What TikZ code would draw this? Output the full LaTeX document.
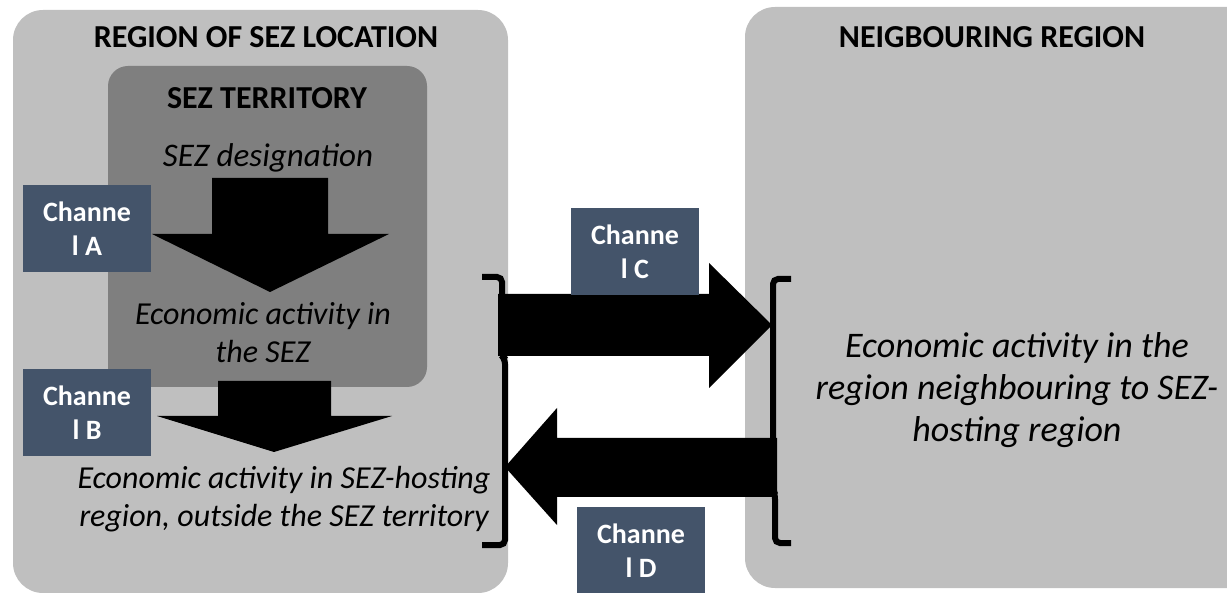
\documentclass[tikz,border=0pt]{standalone}
\usepackage{fontspec}
\setmainfont{Carlito}
\definecolor{lightgrey}{HTML}{BFBFBF}
\definecolor{darkgrey}{HTML}{7F7F7F}
\definecolor{chan}{HTML}{44546A}
\begin{document}
\begin{tikzpicture}[x=1pt,y=-1pt,
  region/.style={fill=lightgrey,rounded corners=30pt},
  title/.style={font=\fontsize{32}{38}\selectfont\bfseries,inner sep=0pt},
  activity/.style={font=\fontsize{32}{38}\selectfont\itshape,align=center,inner sep=0pt},
  channel/.style={fill=chan,text=white,font=\fontsize{28}{34}\selectfont\bfseries,align=center,inner sep=0pt,minimum width=128pt,minimum height=87pt},
  blockarrow/.style={fill=black},
  bracket/.style={draw=black,line width=6pt,rounded corners=5pt}]
\useasboundingbox (0,0) rectangle (1227,593);
% regions
\fill[region] (13,10) rectangle (508,593);
\fill[region] (745,7) rectangle (1260,588);
\fill[darkgrey,rounded corners=20pt] (108,66) rectangle (427,387);
% titles
\node[title] (regtitle) at (266,37) {REGION OF SEZ LOCATION};
\node[title] (neightitle) at (992,37) {NEIGBOURING REGION};
\node[title] (seztitle) at (267,98) {SEZ TERRITORY};
% texts
\node[activity,font=\fontsize{33}{38}\selectfont\itshape] (desig) at (268,158) {SEZ designation};
\node[activity] (sezact) at (263,333) {Economic activity in\\the SEZ};
\node[activity] (hostact) at (284,499) {Economic activity in SEZ-hosting\\region, outside the SEZ territory};
\node[activity,font=\fontsize{36}{42}\selectfont\itshape] (neighact) at (1017,390) {Economic activity in the\\region neighbouring to SEZ-\\hosting region};
% down arrows
\fill[blockarrow] (212,178) -- (328,178) -- (328,234) -- (389,234) -- (270,292) -- (152,234) -- (212,234) -- cycle;
\fill[blockarrow] (218,381) -- (331,381) -- (331,416) -- (392,416) -- (274,452) -- (157,416) -- (218,416) -- cycle;
% horizontal arrows
\fill[blockarrow] (498,294) -- (709,294) -- (709,263) -- (772,325) -- (709,388) -- (709,356) -- (498,356) -- cycle;
\fill[blockarrow] (777,438) -- (557,438) -- (557,408) -- (505,467) -- (557,525) -- (557,497) -- (777,497) -- cycle;
% brackets
\draw[bracket] (482,277) -- (502,277) -- (502,356) -- (505,359) -- (505,545) -- (482,545);
\draw[bracket] (791,279) -- (773,279) -- (773,490) -- (775,494) -- (775,543) -- (791,543);
% channels
\node[channel] (chA) at (87,228.5) {Channe\\l A};
\node[channel] (chB) at (87,412.5) {Channe\\l B};
\node[channel] (chC) at (635,252) {Channe\\l C};
\node[channel] (chD) at (641,551) {Channe\\l D};
\end{tikzpicture}
\end{document}
